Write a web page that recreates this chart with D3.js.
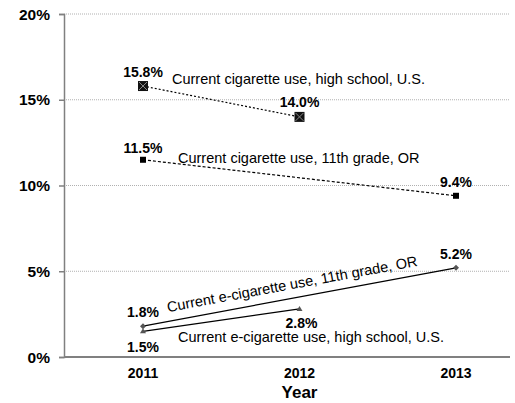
<!DOCTYPE html>
<html>
<head>
<meta charset="utf-8">
<script src="https://d3js.org/d3.v7.min.js"></script>
<style>
  html, body { margin: 0; padding: 0; background: #fff; overflow: hidden; }
  svg { display: block; }
  text { font-family: "Liberation Sans", Arial, sans-serif; }
</style>
</head>
<body>
<svg width="515" height="403"></svg>
<script>
  // data
  const years = ['2011', '2012', '2013'];
  const yTicks = [0, 5, 10, 15, 20];
  const cigUS = [15.8, 14.0, null];
  const cigOR = [11.5, null, 9.4];
  const ecigOR = [1.8, null, 5.2];
  const ecigUS = [1.5, 2.8, null];
  const seriesNames = [
    'Current cigarette use, high school, U.S.',
    'Current cigarette use, 11th grade, OR',
    'Current e-cigarette use, 11th grade, OR',
    'Current e-cigarette use, high school, U.S.'
  ];

  const svg = d3.select('svg');
  const margin = {top: 14, left: 64, right: 5, bottom: 46};
  const width = +svg.attr('width');
  const height = +svg.attr('height');
  const innerWidth = width - margin.left - margin.right;
  const innerHeight = height - margin.top - margin.bottom;

  const xScale = d3.scalePoint().domain(years).range([79, 392]);
  const yScale = d3.scaleLinear().domain([0, 20]).range([innerHeight, 0]);

  const g = svg.append('g')
    .attr('transform', `translate(${margin.left},${margin.top})`);

  // gridlines
  g.selectAll('.grid').data(yTicks.filter(d => d > 0))
    .enter().append('line')
    .attr('x1', 0).attr('x2', innerWidth)
    .attr('y1', d => yScale(d)).attr('y2', d => yScale(d))
    .attr('stroke', '#b0b0b0').attr('stroke-width', 1)
    .attr('stroke-dasharray', '1,1');

  // y axis (lines from d3.axis, labels drawn below)
  const yg = g.append('g').call(d3.axisLeft(yScale).tickValues(yTicks).tickFormat('').tickSize(5));
  yg.select('.domain').attr('stroke', '#808080').attr('stroke-width', 1.5);
  yg.selectAll('.tick line').attr('stroke', '#808080').attr('stroke-width', 1.5);
  g.selectAll('.ylab').data(yTicks).enter().append('text')
    .attr('x', -14).attr('y', d => yScale(d) + 5.5)
    .attr('text-anchor', 'end').attr('font-size', 15.5).attr('font-weight', 'bold')
    .text(d => d + '%');

  // x axis
  g.append('line')
    .attr('x1', 0).attr('x2', innerWidth).attr('y1', innerHeight).attr('y2', innerHeight)
    .attr('stroke', '#808080').attr('stroke-width', 2);
  g.selectAll('.xlab').data(years).enter().append('text')
    .attr('x', d => xScale(d)).attr('y', innerHeight + 21)
    .attr('text-anchor', 'middle').attr('font-size', 14).attr('font-weight', 'bold')
    .text(d => d);

  g.append('text')
    .attr('x', xScale('2012')).attr('y', innerHeight + 41)
    .attr('text-anchor', 'middle').attr('font-size', 17).attr('font-weight', 'bold')
    .text('Year');

  const toPts = vals => years.map((y, i) => ({year: y, v: vals[i]})).filter(d => d.v !== null);
  const line = d3.line().x(d => xScale(d.year)).y(d => yScale(d.v));

  const series = [
    {vals: cigUS, dash: '2,2', width: 1.2, marker: 'xsquare'},
    {vals: cigOR, dash: '3,2', width: 1.2, marker: 'square'},
    {vals: ecigOR, dash: null, width: 1.3, marker: 'diamond'},
    {vals: ecigUS, dash: null, width: 1.3, marker: 'triangle'}
  ];

  series.forEach(s => {
    const pts = toPts(s.vals);
    g.append('path').datum(pts)
      .attr('d', line).attr('fill', 'none').attr('stroke', '#000')
      .attr('stroke-width', s.width).attr('stroke-dasharray', s.dash);
    const m = g.selectAll(null).data(pts).enter().append('g')
      .attr('transform', d => `translate(${xScale(d.year)},${yScale(d.v)})`);
    if (s.marker === 'xsquare') {
      m.append('rect').attr('x', -5).attr('y', -5).attr('width', 10).attr('height', 10).attr('fill', '#111');
      m.append('path').attr('d', 'M-4,-4L4,4M4,-4L-4,4').attr('stroke', '#888').attr('stroke-width', 1);
    } else if (s.marker === 'square') {
      m.append('rect').attr('x', -3).attr('y', -3).attr('width', 6).attr('height', 6).attr('fill', '#000');
    } else if (s.marker === 'diamond') {
      m.append('path').attr('d', 'M0,-3L3,0L0,3L-3,0Z').attr('fill', '#555');
    } else {
      m.append('path').attr('d', 'M0,-3L3,2L-3,2Z').attr('fill', '#555');
    }
  });

  // value label offsets (dx, dy) relative to each point
  const valueLabels = [
    {vals: cigUS, off: [[0, -9], [0, -10]]},
    {vals: cigOR, off: [[0, -7], [0, -9]]},
    {vals: ecigOR, off: [[0, -9], [0, -9]]},
    {vals: ecigUS, off: [[0, 21], [2, 19]]}
  ];
  valueLabels.forEach(s => {
    toPts(s.vals).forEach((d, i) => {
      g.append('text')
        .attr('x', xScale(d.year) + s.off[i][0]).attr('y', yScale(d.v) + s.off[i][1])
        .attr('text-anchor', 'middle').attr('font-size', 14).attr('font-weight', 'bold')
        .text(d.v.toFixed(1) + '%');
    });
  });

  // series name labels
  g.append('text').attr('x', 108).attr('y', yScale(cigUS[0]) - 2)
    .attr('font-size', 14.5).text(seriesNames[0]);
  g.append('text').attr('x', 114).attr('y', yScale(cigOR[0]) + 3)
    .attr('font-size', 14.5).text(seriesNames[1]);
  g.append('text')
    .attr('transform', `translate(104,${yScale(ecigOR[0]) - 14}) rotate(-10.5)`)
    .attr('font-size', 14.5).text(seriesNames[2]);
  g.append('text').attr('x', 114).attr('y', yScale(ecigUS[0]) + 11)
    .attr('font-size', 14.5).text(seriesNames[3]);
</script>
</body>
</html>
